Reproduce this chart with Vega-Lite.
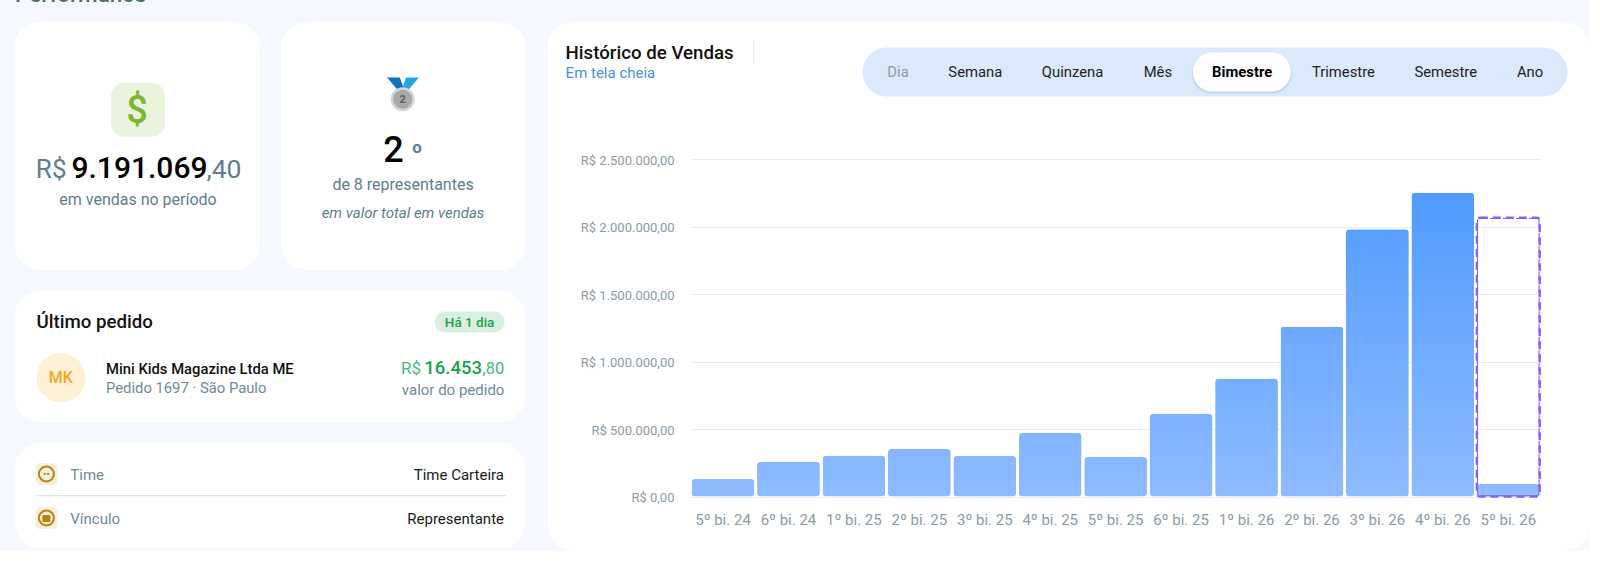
{
  "$schema": "https://vega.github.io/schema/vega-lite/v6.json",
  "background": "#f5f8ff",
  "padding": {"left": 15, "top": -17, "right": 0, "bottom": 0},
  "title": {"text": "Performance", "anchor": "start", "frame": "group", "font": "Roboto", "fontSize": 22.5, "fontWeight": 500, "color": "#4d6b7a", "offset": 16},
  "config": {
    "view": {"fill": "#ffffff", "stroke": null, "cornerRadius": 25},
    "text": {"font": "Roboto", "baseline": "alphabetic"},
    "axis": {"labelFont": "Roboto"},
    "locale": {"number": {"decimal": ",", "thousands": ".", "grouping": [3], "currency": ["R$ ", ""]}}
  },
  "hconcat": [
    {
      "vconcat": [
        {
          "hconcat": [
            {
              "width": 245,
              "height": 248,
              "resolve": {"scale": {"x": "independent", "y": "independent"}},
              "layer": [
                {"data": {"values": [{"t": "icone"}]}, "mark": {"type": "rect", "width": 54, "height": 54, "cornerRadius": 14, "color": "#eaf3dd"},
                  "encoding": {"x": {"field": "t", "type": "nominal", "axis": null, "scale": {"type": "point", "range": [123, 123]}}, "y": {"field": "t", "type": "nominal", "axis": null, "scale": {"type": "point", "range": [87.7, 87.7]}}}},
                {"data": {"values": [{"t": "$"}]}, "mark": {"type": "text", "fontSize": 38, "fontWeight": 500, "color": "#7ab62e", "align": "center"},
                  "encoding": {"x": {"field": "t", "type": "nominal", "axis": null, "scale": {"range": [122, 122]}}, "y": {"field": "t", "type": "nominal", "axis": null, "scale": {"range": [100.7, 100.7]}}, "text": {"field": "t"}}},
                {"data": {"values": [{"t": "R$"}]}, "mark": {"type": "text", "fontSize": 26, "color": "#5f7d8c", "align": "right"},
                  "encoding": {"x": {"field": "t", "type": "nominal", "axis": null, "scale": {"range": [51.5, 51.5]}}, "y": {"field": "t", "type": "nominal", "axis": null, "scale": {"range": [156.3, 156.3]}}, "text": {"field": "t"}}},
                {"data": {"values": [{"t": "9.191.069"}]}, "mark": {"type": "text", "fontSize": 30, "fontWeight": 500, "color": "#000000", "align": "center"},
                  "encoding": {"x": {"field": "t", "type": "nominal", "axis": null, "scale": {"range": [124.5, 124.5]}}, "y": {"field": "t", "type": "nominal", "axis": null, "scale": {"range": [156.3, 156.3]}}, "text": {"field": "t"}}},
                {"data": {"values": [{"t": ",40"}]}, "mark": {"type": "text", "fontSize": 26.5, "color": "#5f7d8c", "align": "left"},
                  "encoding": {"x": {"field": "t", "type": "nominal", "axis": null, "scale": {"range": [191.5, 191.5]}}, "y": {"field": "t", "type": "nominal", "axis": null, "scale": {"range": [156.3, 156.3]}}, "text": {"field": "t"}}},
                {"data": {"values": [{"t": "em vendas no período"}]}, "mark": {"type": "text", "fontSize": 16, "color": "#5f7d8c", "align": "center"},
                  "encoding": {"x": {"field": "t", "type": "nominal", "axis": null, "scale": {"range": [123, 123]}}, "y": {"field": "t", "type": "nominal", "axis": null, "scale": {"range": [183, 183]}}, "text": {"field": "t"}}}
              ]
            },
            {
              "width": 243,
              "height": 248,
              "resolve": {"scale": {"x": "independent", "y": "independent"}},
              "layer": [
                {"data": {"values": [{"t": "fita esq"}]}, "mark": {"type": "point", "filled": true, "opacity": 1, "size": 1024, "color": "#0a76c0", "shape": "M-1,-.4 L-.2,-.4 L.1,.4 L-.3,.4 Z"},
                  "encoding": {"x": {"field": "t", "type": "nominal", "axis": null, "scale": {"range": [121, 121]}}, "y": {"field": "t", "type": "nominal", "axis": null, "scale": {"range": [62, 62]}}}},
                {"data": {"values": [{"t": "fita dir"}]}, "mark": {"type": "point", "filled": true, "opacity": 1, "size": 1024, "color": "#2aa4e8", "shape": "M1,-.4 L.2,-.4 L-.1,.4 L.3,.4 Z"},
                  "encoding": {"x": {"field": "t", "type": "nominal", "axis": null, "scale": {"range": [121, 121]}}, "y": {"field": "t", "type": "nominal", "axis": null, "scale": {"range": [62, 62]}}}},
                {"data": {"values": [{"t": "medalha"}]}, "mark": {"type": "point", "filled": true, "opacity": 1, "size": 576, "color": "#d4d4d4"},
                  "encoding": {"x": {"field": "t", "type": "nominal", "axis": null, "scale": {"range": [120.7, 120.7]}}, "y": {"field": "t", "type": "nominal", "axis": null, "scale": {"range": [77.3, 77.3]}}}},
                {"data": {"values": [{"t": "miolo"}]}, "mark": {"type": "point", "filled": true, "opacity": 1, "size": 361, "color": "#a9a9a9"},
                  "encoding": {"x": {"field": "t", "type": "nominal", "axis": null, "scale": {"range": [120.7, 120.7]}}, "y": {"field": "t", "type": "nominal", "axis": null, "scale": {"range": [77.3, 77.3]}}}},
                {"data": {"values": [{"t": "2"}]}, "mark": {"type": "text", "fontSize": 11, "fontWeight": 700, "color": "#5f5f5f", "align": "center"},
                  "encoding": {"x": {"field": "t", "type": "nominal", "axis": null, "scale": {"range": [120.7, 120.7]}}, "y": {"field": "t", "type": "nominal", "axis": null, "scale": {"range": [81.3, 81.3]}}, "text": {"field": "t"}}},
                {"data": {"values": [{"t": "2"}]}, "mark": {"type": "text", "fontSize": 36, "fontWeight": 500, "color": "#000000", "align": "center"},
                  "encoding": {"x": {"field": "t", "type": "nominal", "axis": null, "scale": {"range": [111.6, 111.6]}}, "y": {"field": "t", "type": "nominal", "axis": null, "scale": {"range": [139.7, 139.7]}}, "text": {"field": "t"}}},
                {"data": {"values": [{"t": "o"}]}, "mark": {"type": "text", "fontSize": 17, "fontWeight": 700, "color": "#5f7d8c", "align": "center"},
                  "encoding": {"x": {"field": "t", "type": "nominal", "axis": null, "scale": {"range": [135, 135]}}, "y": {"field": "t", "type": "nominal", "axis": null, "scale": {"range": [130.7, 130.7]}}, "text": {"field": "t"}}},
                {"data": {"values": [{"t": "de 8 representantes"}]}, "mark": {"type": "text", "fontSize": 16, "color": "#5f7d8c", "align": "center"},
                  "encoding": {"x": {"field": "t", "type": "nominal", "axis": null, "scale": {"range": [121, 121]}}, "y": {"field": "t", "type": "nominal", "axis": null, "scale": {"range": [168, 168]}}, "text": {"field": "t"}}},
                {"data": {"values": [{"t": "em valor total em vendas"}]}, "mark": {"type": "text", "fontSize": 15, "fontStyle": "italic", "color": "#5f7d8c", "align": "center"},
                  "encoding": {"x": {"field": "t", "type": "nominal", "axis": null, "scale": {"range": [121, 121]}}, "y": {"field": "t", "type": "nominal", "axis": null, "scale": {"range": [196, 196]}}, "text": {"field": "t"}}}
              ]
            }
          ],
          "spacing": 22
        },
        {
          "width": 510,
          "height": 131,
          "resolve": {"scale": {"x": "independent", "y": "independent"}},
          "layer": [
            {"data": {"values": [{"t": "Último pedido"}]}, "mark": {"type": "text", "fontSize": 18.7, "fontWeight": 500, "color": "#111111", "align": "left"},
              "encoding": {"x": {"field": "t", "type": "nominal", "axis": null, "scale": {"range": [21.5, 21.5]}}, "y": {"field": "t", "type": "nominal", "axis": null, "scale": {"range": [37.3, 37.3]}}, "text": {"field": "t"}}},
            {"data": {"values": [{"t": "selo"}]}, "mark": {"type": "rect", "width": 70, "height": 21, "cornerRadius": 10.5, "color": "#d8f0e0"},
              "encoding": {"x": {"field": "t", "type": "nominal", "axis": null, "scale": {"type": "point", "range": [454.6, 454.6]}}, "y": {"field": "t", "type": "nominal", "axis": null, "scale": {"type": "point", "range": [31, 31]}}}},
            {"data": {"values": [{"t": "Há 1 dia"}]}, "mark": {"type": "text", "fontSize": 13.5, "fontWeight": 500, "color": "#16a34a", "align": "center"},
              "encoding": {"x": {"field": "t", "type": "nominal", "axis": null, "scale": {"range": [454.6, 454.6]}}, "y": {"field": "t", "type": "nominal", "axis": null, "scale": {"range": [36, 36]}}, "text": {"field": "t"}}},
            {"data": {"values": [{"t": "avatar"}]}, "mark": {"type": "point", "filled": true, "opacity": 1, "size": 2440, "color": "#fff0d6"},
              "encoding": {"x": {"field": "t", "type": "nominal", "axis": null, "scale": {"range": [45.8, 45.8]}}, "y": {"field": "t", "type": "nominal", "axis": null, "scale": {"range": [86.7, 86.7]}}}},
            {"data": {"values": [{"t": "MK"}]}, "mark": {"type": "text", "fontSize": 16, "fontWeight": 500, "color": "#f5a623", "align": "center"},
              "encoding": {"x": {"field": "t", "type": "nominal", "axis": null, "scale": {"range": [45.8, 45.8]}}, "y": {"field": "t", "type": "nominal", "axis": null, "scale": {"range": [92.3, 92.3]}}, "text": {"field": "t"}}},
            {"data": {"values": [{"t": "Mini Kids Magazine Ltda ME"}]}, "mark": {"type": "text", "fontSize": 14.8, "fontWeight": 500, "color": "#111111", "align": "left"},
              "encoding": {"x": {"field": "t", "type": "nominal", "axis": null, "scale": {"range": [91, 91]}}, "y": {"field": "t", "type": "nominal", "axis": null, "scale": {"range": [83, 83]}}, "text": {"field": "t"}}},
            {"data": {"values": [{"t": "Pedido 1697 · São Paulo"}]}, "mark": {"type": "text", "fontSize": 14.8, "color": "#6f8a98", "align": "left"},
              "encoding": {"x": {"field": "t", "type": "nominal", "axis": null, "scale": {"range": [91, 91]}}, "y": {"field": "t", "type": "nominal", "axis": null, "scale": {"range": [102.3, 102.3]}}, "text": {"field": "t"}}},
            {"data": {"values": [{"t": "R$"}]}, "mark": {"type": "text", "fontSize": 17, "color": "#4fb67a", "align": "right"},
              "encoding": {"x": {"field": "t", "type": "nominal", "axis": null, "scale": {"range": [406, 406]}}, "y": {"field": "t", "type": "nominal", "axis": null, "scale": {"range": [83.3, 83.3]}}, "text": {"field": "t"}}},
            {"data": {"values": [{"t": "16.453"}]}, "mark": {"type": "text", "fontSize": 18.5, "fontWeight": 500, "color": "#16a34a", "align": "right"},
              "encoding": {"x": {"field": "t", "type": "nominal", "axis": null, "scale": {"range": [467, 467]}}, "y": {"field": "t", "type": "nominal", "axis": null, "scale": {"range": [83.3, 83.3]}}, "text": {"field": "t"}}},
            {"data": {"values": [{"t": ",80"}]}, "mark": {"type": "text", "fontSize": 16.5, "color": "#4fb67a", "align": "right"},
              "encoding": {"x": {"field": "t", "type": "nominal", "axis": null, "scale": {"range": [489.4, 489.4]}}, "y": {"field": "t", "type": "nominal", "axis": null, "scale": {"range": [83.3, 83.3]}}, "text": {"field": "t"}}},
            {"data": {"values": [{"t": "valor do pedido"}]}, "mark": {"type": "text", "fontSize": 15, "color": "#6f8a98", "align": "right"},
              "encoding": {"x": {"field": "t", "type": "nominal", "axis": null, "scale": {"range": [489.4, 489.4]}}, "y": {"field": "t", "type": "nominal", "axis": null, "scale": {"range": [104, 104]}}, "text": {"field": "t"}}}
          ]
        },
        {
          "width": 510,
          "height": 105,
          "resolve": {"scale": {"x": "independent", "y": "independent"}},
          "layer": [
            {"data": {"values": [{"t": "icone time"}]}, "mark": {"type": "rect", "width": 22, "height": 22, "cornerRadius": 5, "color": "#f6efdd"},
              "encoding": {"x": {"field": "t", "type": "nominal", "axis": null, "scale": {"type": "point", "range": [31.4, 31.4]}}, "y": {"field": "t", "type": "nominal", "axis": null, "scale": {"type": "point", "range": [31, 31]}}}},
            {"data": {"values": [{"t": "anel time"}]}, "mark": {"type": "point", "filled": false, "opacity": 1, "size": 225, "strokeWidth": 2, "color": "#b8860b"},
              "encoding": {"x": {"field": "t", "type": "nominal", "axis": null, "scale": {"range": [31.4, 31.4]}}, "y": {"field": "t", "type": "nominal", "axis": null, "scale": {"range": [31, 31]}}}},
            {"data": {"values": [{"t": "••"}]}, "mark": {"type": "text", "fontSize": 9, "fontWeight": 700, "color": "#b8860b", "align": "center"},
              "encoding": {"x": {"field": "t", "type": "nominal", "axis": null, "scale": {"range": [31.4, 31.4]}}, "y": {"field": "t", "type": "nominal", "axis": null, "scale": {"range": [33.5, 33.5]}}, "text": {"field": "t"}}},
            {"data": {"values": [{"t": "Time"}]}, "mark": {"type": "text", "fontSize": 15, "color": "#6f8a98", "align": "left"},
              "encoding": {"x": {"field": "t", "type": "nominal", "axis": null, "scale": {"range": [55.3, 55.3]}}, "y": {"field": "t", "type": "nominal", "axis": null, "scale": {"range": [36.7, 36.7]}}, "text": {"field": "t"}}},
            {"data": {"values": [{"t": "Time Carteira"}]}, "mark": {"type": "text", "fontSize": 15, "color": "#1a1a1a", "align": "right"},
              "encoding": {"x": {"field": "t", "type": "nominal", "axis": null, "scale": {"range": [489, 489]}}, "y": {"field": "t", "type": "nominal", "axis": null, "scale": {"range": [36.7, 36.7]}}, "text": {"field": "t"}}},
            {"data": {"values": [{"t": "divisor"}]}, "mark": {"type": "rule", "strokeWidth": 1.2, "color": "#dbe6f3"},
              "encoding": {"x": {"datum": "ini", "type": "nominal", "axis": null, "scale": {"type": "point", "padding": 0, "domain": ["ini", "fim"], "range": [21, 491]}}, "x2": {"datum": "fim"}, "y": {"field": "t", "type": "nominal", "axis": null, "scale": {"range": [52.7, 52.7]}}}},
            {"data": {"values": [{"t": "icone vinculo"}]}, "mark": {"type": "rect", "width": 22, "height": 22, "cornerRadius": 5, "color": "#f6efdd"},
              "encoding": {"x": {"field": "t", "type": "nominal", "axis": null, "scale": {"type": "point", "range": [31.4, 31.4]}}, "y": {"field": "t", "type": "nominal", "axis": null, "scale": {"type": "point", "range": [75, 75]}}}},
            {"data": {"values": [{"t": "anel vinculo"}]}, "mark": {"type": "point", "filled": false, "opacity": 1, "size": 225, "strokeWidth": 2, "color": "#b8860b"},
              "encoding": {"x": {"field": "t", "type": "nominal", "axis": null, "scale": {"range": [31.4, 31.4]}}, "y": {"field": "t", "type": "nominal", "axis": null, "scale": {"range": [75, 75]}}}},
            {"data": {"values": [{"t": "maleta"}]}, "mark": {"type": "rect", "width": 8, "height": 7, "cornerRadius": 1, "color": "#b8860b"},
              "encoding": {"x": {"field": "t", "type": "nominal", "axis": null, "scale": {"type": "point", "range": [31.4, 31.4]}}, "y": {"field": "t", "type": "nominal", "axis": null, "scale": {"type": "point", "range": [75.5, 75.5]}}}},
            {"data": {"values": [{"t": "Vínculo"}]}, "mark": {"type": "text", "fontSize": 15, "color": "#6f8a98", "align": "left"},
              "encoding": {"x": {"field": "t", "type": "nominal", "axis": null, "scale": {"range": [55.3, 55.3]}}, "y": {"field": "t", "type": "nominal", "axis": null, "scale": {"range": [80.7, 80.7]}}, "text": {"field": "t"}}},
            {"data": {"values": [{"t": "Representante"}]}, "mark": {"type": "text", "fontSize": 15, "color": "#1a1a1a", "align": "right"},
              "encoding": {"x": {"field": "t", "type": "nominal", "axis": null, "scale": {"range": [489, 489]}}, "y": {"field": "t", "type": "nominal", "axis": null, "scale": {"range": [80.7, 80.7]}}, "text": {"field": "t"}}}
          ]
        }
      ],
      "spacing": 21
    },
    {
      "width": 1041,
      "height": 529,
      "resolve": {"scale": {"x": "independent", "y": "independent"}},
      "layer": [
        {
          "data": {"values": [
            {"periodo": "5º bi. 24", "valor": 130000, "meta": null},
            {"periodo": "6º bi. 24", "valor": 258000, "meta": null},
            {"periodo": "1º bi. 25", "valor": 302000, "meta": null},
            {"periodo": "2º bi. 25", "valor": 352000, "meta": null},
            {"periodo": "3º bi. 25", "valor": 300000, "meta": null},
            {"periodo": "4º bi. 25", "valor": 470000, "meta": null},
            {"periodo": "5º bi. 25", "valor": 292000, "meta": null},
            {"periodo": "6º bi. 25", "valor": 612000, "meta": null},
            {"periodo": "1º bi. 26", "valor": 875000, "meta": null},
            {"periodo": "2º bi. 26", "valor": 1260000, "meta": null},
            {"periodo": "3º bi. 26", "valor": 1980000, "meta": null},
            {"periodo": "4º bi. 26", "valor": 2250000, "meta": null},
            {"periodo": "5º bi. 26", "valor": 92000, "meta": 2065000}
          ]},
          "encoding": {
            "x": {
              "field": "periodo",
              "type": "nominal",
              "sort": null,
              "title": null,
              "scale": {"type": "band", "range": [142.3, 993], "paddingInner": 0.04, "paddingOuter": 0.02},
              "axis": {"offset": -54.5, "domain": false, "ticks": false, "grid": false, "labelAngle": 0, "labelPadding": 16, "labelFontSize": 15, "labelColor": "#8a9ba5"}
            }
          },
          "layer": [
            {
              "mark": {
                "type": "bar",
                "cornerRadius": 3.5,
                "fill": {"expr": "{gradient: 'linear', x1: 0, y1: 0, x2: 0, y2: 1, stops: [{offset: 0, color: 'rgb(' + round(143 - 64 * datum.valor / 2250000) + ',' + round(187 - 32 * datum.valor / 2250000) + ',255)'}, {offset: 1, color: '#8fbbff'}]}"}
              },
              "encoding": {
                "y": {
                  "field": "valor",
                  "type": "quantitative",
                  "title": null,
                  "scale": {"domain": [0, 2500000], "range": [474.5, 137], "nice": false},
                  "axis": {"offset": -126, "domain": false, "ticks": false, "labelPadding": 0, "labelOffset": 1, "values": [0, 500000, 1000000, 1500000, 2000000, 2500000], "format": "$,.2f", "labelFontSize": 13, "labelColor": "#8a9ba5", "gridColor": "#e3eef8"}
                }
              }
            },
            {
              "transform": [{"filter": "datum.meta != null"}],
              "mark": {"type": "bar", "fill": "transparent", "stroke": "#8b5cf6", "strokeWidth": 2.4, "strokeDash": [8, 5], "cornerRadius": 3},
              "encoding": {"y": {"field": "meta", "type": "quantitative"}}
            }
          ]
        },
        {"data": {"values": [{"t": "Histórico de Vendas"}]}, "mark": {"type": "text", "fontSize": 18.7, "fontWeight": 500, "color": "#111111", "align": "left"},
          "encoding": {"x": {"field": "t", "type": "nominal", "axis": null, "scale": {"range": [17.6, 17.6]}}, "y": {"field": "t", "type": "nominal", "axis": null, "scale": {"range": [36.5, 36.5]}}, "text": {"field": "t"}}},
        {"data": {"values": [{"t": "Em tela cheia"}]}, "mark": {"type": "text", "fontSize": 15, "color": "#4a90e2", "align": "left"},
          "encoding": {"x": {"field": "t", "type": "nominal", "axis": null, "scale": {"range": [17.6, 17.6]}}, "y": {"field": "t", "type": "nominal", "axis": null, "scale": {"range": [56, 56]}}, "text": {"field": "t"}}},
        {"data": {"values": [{"t": "separador"}]}, "mark": {"type": "rule", "strokeWidth": 1, "color": "#e5e7eb"},
          "encoding": {"x": {"field": "t", "type": "nominal", "axis": null, "scale": {"range": [205.7, 205.7]}}, "y": {"datum": "ini", "type": "nominal", "axis": null, "scale": {"type": "point", "padding": 0, "domain": ["ini", "fim"], "range": [19, 42]}}, "y2": {"datum": "fim"}}},
        {"data": {"values": [{"t": "fundo abas"}]}, "mark": {"type": "rect", "width": 705, "height": 49, "cornerRadius": 24.5, "color": "#dbe9fd"},
          "encoding": {"x": {"field": "t", "type": "nominal", "axis": null, "scale": {"type": "point", "range": [667, 667]}}, "y": {"field": "t", "type": "nominal", "axis": null, "scale": {"type": "point", "range": [50, 50]}}}},
        {"data": {"values": [{"t": "sombra"}]}, "mark": {"type": "rect", "width": 100, "height": 40, "cornerRadius": 20, "color": "#9db8dd", "opacity": 0.4},
          "encoding": {"x": {"field": "t", "type": "nominal", "axis": null, "scale": {"type": "point", "range": [693.8, 693.8]}}, "y": {"field": "t", "type": "nominal", "axis": null, "scale": {"type": "point", "range": [51.5, 51.5]}}}},
        {"data": {"values": [{"t": "aba ativa"}]}, "mark": {"type": "rect", "width": 98, "height": 39, "cornerRadius": 19.5, "color": "#ffffff"},
          "encoding": {"x": {"field": "t", "type": "nominal", "axis": null, "scale": {"type": "point", "range": [693.8, 693.8]}}, "y": {"field": "t", "type": "nominal", "axis": null, "scale": {"type": "point", "range": [50, 50]}}}},
        {
          "data": {"values": [{"aba": "Dia"}, {"aba": "Semana"}, {"aba": "Quinzena"}, {"aba": "Mês"}, {"aba": "Bimestre"}, {"aba": "Trimestre"}, {"aba": "Semestre"}, {"aba": "Ano"}]},
          "mark": {
            "type": "text",
            "fontSize": 14.8,
            "align": "center",
            "dx": {"expr": "({'Dia':0,'Semana':-13,'Quinzena':-6,'Mês':-11,'Bimestre':-17,'Trimestre':-6,'Semestre':6,'Ano':0})[datum.aba]"},
            "fontWeight": {"expr": "datum.aba === 'Bimestre' ? 700 : 400"},
            "color": {"expr": "datum.aba === 'Dia' ? '#8a9aa8' : datum.aba === 'Bimestre' ? '#000000' : '#222222'"}
          },
          "encoding": {
            "x": {"field": "aba", "type": "nominal", "sort": null, "axis": null, "scale": {"type": "point", "padding": 0, "range": [350, 982]}},
            "y": {"datum": "abas", "type": "nominal", "axis": null, "scale": {"range": [55, 55]}},
            "text": {"field": "aba"}
          }
        }
      ]
    }
  ],
  "spacing": 23
}
